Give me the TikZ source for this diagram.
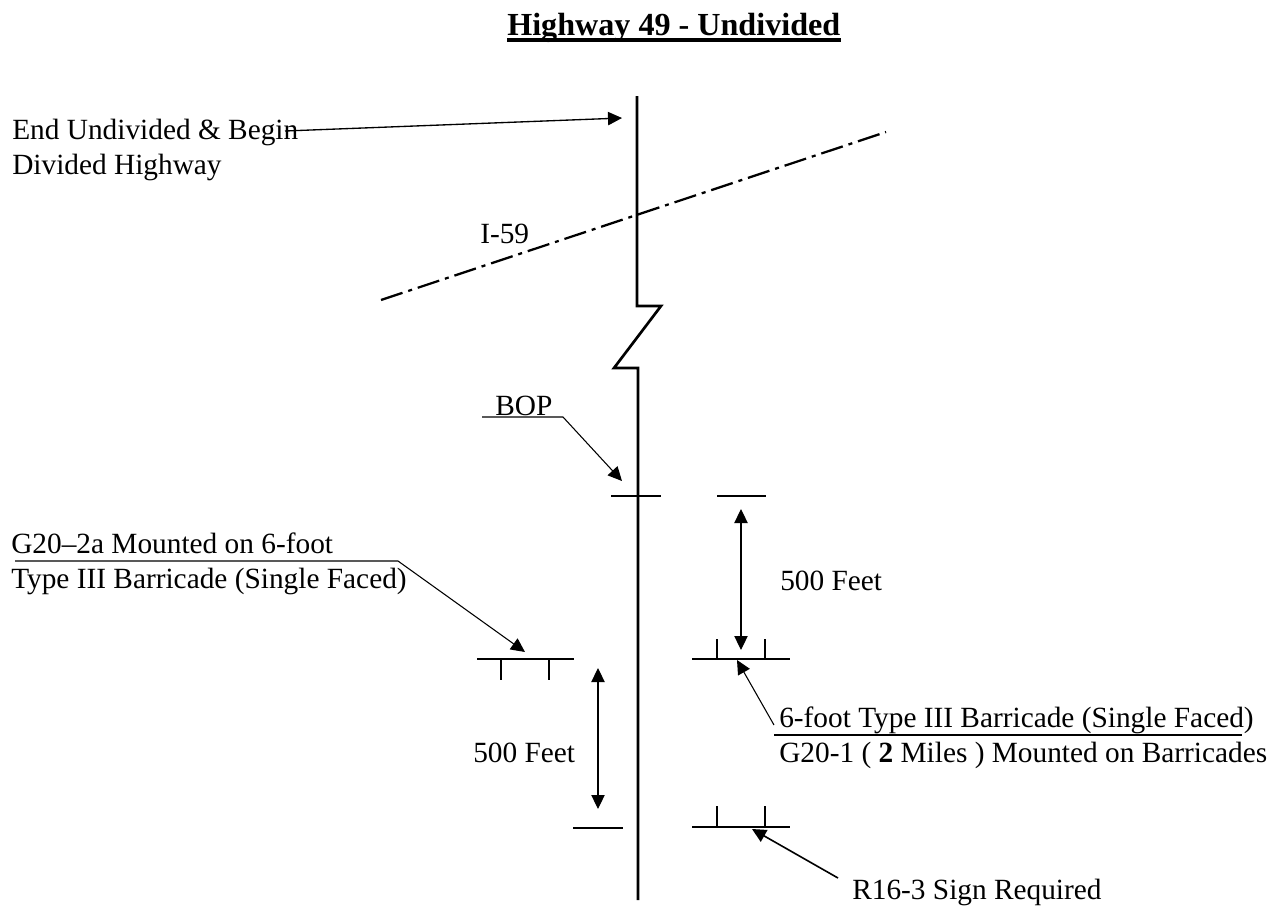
\documentclass[tikz,border=0pt]{standalone}
\usepackage{fontspec}
\setmainfont{Liberation Serif}
\usepackage{tikz}
\usetikzlibrary{arrows.meta}

\begin{document}
\begin{tikzpicture}[
  x=0.75pt, y=-0.75pt,
  lab/.style={inner sep=0pt, anchor=base west, align=left, font=\fontsize{22}{26.25}\selectfont},
  road/.style={line width=2pt, line join=miter},
  bar/.style={line width=1.8pt},
  cen/.style={dash pattern=on 17pt off 4.5pt on 3pt off 4.5pt, line width=1.7pt},
  lead/.style={-{Triangle[length=10.5pt,width=10pt]}, line width=0.8pt},
  dim/.style={{Triangle[length=10.5pt,width=10pt]}-{Triangle[length=10.5pt,width=10pt]}, line width=0.8pt}
]
  \useasboundingbox (0,0) rectangle (1282,908);

  % labels
  \node[lab,font=\fontsize{24.1}{28}\selectfont\bfseries] (title) at (507,35) {Highway 49 - Undivided};
  \node[lab] (endlab) at (12,174) {End Undivided \& Begin\\Divided Highway};
  \node[lab] (ilab) at (480,243) {I-59};
  \node[lab] (boplab) at (495,415) {BOP};
  \node[lab] (g2a) at (11,588) {G20--2a Mounted on 6-foot\\Type III Barricade (Single Faced)};
  \node[lab] (feeta) at (780,590) {500 Feet};
  \node[lab] (feetb) at (473,762) {500 Feet};
  \node[lab] (bar6) at (779,762) {6-foot Type III Barricade (Single Faced)\\G20-1 ( \textbf{2} Miles ) Mounted on Barricades};
  \node[lab] (r16) at (852,899) {R16-3 Sign Required};

  % points
  \coordinate (tl) at (507,40);
  \coordinate (tr) at (841,40);
  \coordinate (rtop) at (637,96);
  \coordinate (rbot) at (638,900);
  \coordinate (cena) at (381,300);
  \coordinate (cenb) at (886,132);
  \coordinate (endfrom) at (285,131);
  \coordinate (endto) at (622,118);
  \coordinate (bopa) at (482,417);
  \coordinate (bopb) at (563,417);
  \coordinate (bopto) at (622,481);
  \coordinate (g2l) at (15,561);
  \coordinate (g2r) at (398,561);
  \coordinate (g2to) at (525,652);
  \coordinate (barl) at (774,735);
  \coordinate (barr) at (1242,735);
  \coordinate (barfrom) at (774,725);
  \coordinate (barto) at (737,660);
  \coordinate (r16from) at (838,878);
  \coordinate (r16to) at (752,829);

  % title rule
  \draw[line width=2.5pt] (tl) -- (tr);

  % road with break
  \draw[road] (rtop) |- (661,306) -- (614,368) -| (rbot);
  \draw[cen] (cena) -- (cenb);

  % barricades
  \draw[bar] (611,496) -- (661,496);
  \draw[bar] (717,496) -- (766,496);
  \draw[bar] (573,828) -- (623,828);
  \draw[bar] (477,659) -- (574,659);
  \draw[bar] (501,659) -- (501,680);
  \draw[bar] (549,659) -- (549,680);
  \draw[bar] (692,659) -- (790,659);
  \draw[bar] (717,659) -- (717,639);
  \draw[bar] (765,659) -- (765,639);
  \draw[bar] (692,827) -- (790,827);
  \draw[bar] (717,827) -- (717,806);
  \draw[bar] (765,827) -- (765,806);

  % leaders
  \draw[lead, line width=1pt] (endfrom) -- (endto);
  \draw[lead] (bopa) -- (bopb) -- (bopto);
  \draw[lead] (g2l) -- (g2r) -- (g2to);
  \draw[line width=0.8pt] (barl) -- (barr);
  \draw[lead] (barfrom) -- (barto);
  \draw[lead, line width=1.2pt] (r16from) -- (r16to);

  % dimensions
  \draw[dim] (741,509) -- (741,650);
  \draw[dim] (598,668) -- (598,809);
\end{tikzpicture}
\end{document}
